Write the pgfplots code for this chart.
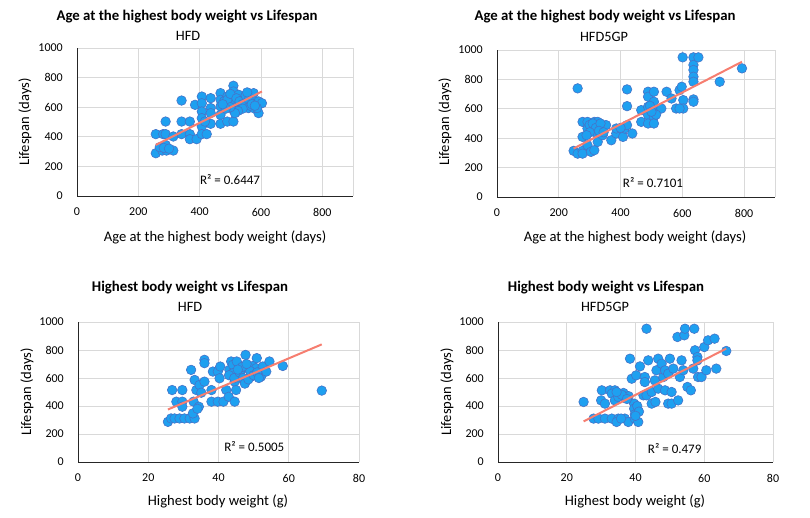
\documentclass[border=0pt]{standalone}
\usepackage{fontspec}
\setmainfont{Carlito}
\usepackage{pgfplots}
\pgfplotsset{compat=1.18}
\definecolor{ptfill}{RGB}{30,160,240}
\definecolor{ptedge}{RGB}{70,115,200}
\definecolor{trend}{RGB}{246,126,112}
\definecolor{gridc}{RGB}{217,217,217}
\pgfplotsset{
  myaxis/.style={
    scale only axis, anchor=south west, clip=false, clip marker paths=true,
    axis x line*=bottom, axis y line*=left,
    axis line style={black!85, line width=0.8pt},
    grid=major, major grid style={gridc, line width=0.8pt},
    major tick length=0pt,
    ymin=0, ymax=1000, ytick={0,200,...,1000},
    scaled ticks=false,
    /pgf/number format/1000 sep={},
    /pgf/number format/assume math mode=true,
    tick label style={font=\fontsize{12}{13}\selectfont, inner sep=0pt},
    yticklabel style={xshift=-14pt},
    xticklabel style={yshift=-12pt},
  },
  pts/.style={only marks, mark=*, mark size=4.8pt, mark options={fill=ptfill, draw=ptedge, line width=0.6pt}},
  tl/.style={trend, line width=2pt, no marks},
}
\tikzset{
  ttl/.style={font=\bfseries\fontsize{14.8}{16}\selectfont},
  sub/.style={font=\fontsize{14.3}{16}\selectfont},
  lab/.style={font=\fontsize{14.6}{16}\selectfont},
  rsq/.style={font=\fontsize{13}{14}\selectfont},
}
\begin{document}
\begin{tikzpicture}
\path[use as bounding box] (0,0) rectangle (810pt,517pt);
% Panel 1
\begin{axis}[myaxis, at={(77pt,321pt)}, width=276pt, height=148pt,
  xmin=0, xmax=900, xtick={0,200,...,800}, extra x ticks={900}, extra x tick labels={}, extra tick style={grid=major}]
\addplot[pts] table {
x y
257 418
257 289
281 418
289 503
289 418
289 345
278 307
292 307
314 307
314 402
270 330
283 325
300 320
341 645
341 503
341 418
368 503
368 418
368 384
390 384
385 616
407 672
407 627
407 571
407 526
407 469
407 418
423 418
436 661
436 594
436 560
436 488
417 503
468 695
468 650
468 605
468 548
468 488
490 672
490 627
490 503
505 605
510 745
510 706
510 650
510 582
510 503
527 684
532 605
548 650
559 672
576 695
576 639
559 594
592 560
592 639
603 627
576 594
587 594
480 640
490 650
500 690
520 660
530 640
540 620
550 680
560 650
565 610
540 590
525 575
515 560
500 600
485 590
475 620
555 700
570 620
580 610
};
\addplot[tl] coordinates {(257,345) (603,706)};
\node[rsq] at (axis cs:499,108) {R² = 0.6447};
\end{axis}
% Panel 2
\begin{axis}[myaxis, at={(497pt,320pt)}, width=278pt, height=147pt,
  xmin=0, xmax=900, xtick={0,200,...,800}, extra x ticks={900}, extra x tick labels={}, extra tick style={grid=major}]
\addplot[pts] table {
x y
261 739
248 314
261 295
277 314
277 409
277 511
293 511
293 466
293 352
277 295
304 307
315 511
315 443
315 318
326 511
326 477
326 375
342 466
342 420
353 489
370 386
386 432
386 466
408 409
413 466
421 489
421 618
421 732
438 432
467 591
467 511
489 716
489 682
489 614
489 557
489 500
508 716
508 648
508 591
508 545
508 500
532 602
549 716
565 670
580 602
591 727
598 750
603 659
603 602
601 950
591 602
636 950
636 898
636 864
636 818
636 784
636 664
636 648
652 950
721 784
793 875
300 490
310 500
320 470
335 500
330 450
345 440
300 440
290 420
495 620
515 560
500 580
400 470
};
\addplot[tl] coordinates {(248,330) (793,920)};
\node[rsq] at (axis cs:505,95) {R² = 0.7101};
\end{axis}
% Panel 3
\begin{axis}[myaxis, at={(78pt,55pt)}, width=281pt, height=140pt,
  xmin=0, xmax=80, xtick={0,20,...,80}]
\addplot[pts] table {
x y
25.6 287
26.5 311
27.5 311
28.9 311
30.3 311
31.8 311
33.2 311
26.8 514
29.7 514
28.0 431
29.7 431
29.7 395
32.2 658
32.9 431
32.7 347
33.2 586
33.7 514
34.6 550
35.1 495
34.4 395
36.0 730
36.0 706
36.0 574
38.4 646
38.0 514
38.0 431
39.8 431
41.4 431
39.8 646
40.5 682
40.3 598
42.2 514
42.9 466
43.1 658
43.6 718
44.1 694
44.1 634
44.6 431
44.6 574
45.0 514
45.2 718
45.9 622
46.5 658
47.1 586
47.7 765
47.7 574
48.3 670
49.3 610
49.8 686
50.7 670
50.9 742
52.1 610
52.6 682
53.6 646
54.5 718
58.3 686
69.4 510
43.0 620
44.5 600
46.0 640
47.0 600
47.5 560
48.5 590
49.0 650
50.0 620
51.0 640
51.5 600
46.8 680
45.5 660
48.0 700
34.0 380
};
\addplot[tl] coordinates {(25.6,375) (69.4,840)};
\node[rsq] at (axis cs:50.2,108) {R² = 0.5005};
\end{axis}
% Panel 4
\begin{axis}[myaxis, at={(498pt,55pt)}, width=275pt, height=140pt,
  xmin=0, xmax=80, xtick={0,20,...,80}]
\addplot[pts] table {
x y
24.9 429
27.8 310
29.2 310
31.1 310
33.1 310
35.0 310
36.9 310
30.2 512
30.0 440
31.1 417
32.6 512
34.0 512
33.1 488
34.0 440
35.0 464
36.5 493
34.5 286
37.9 286
35.8 310
38.4 738
38.9 595
39.6 417
39.6 381
39.8 340
39.8 310
40.8 286
40.2 619
41.3 683
43.2 952
42.7 607
42.7 571
42.3 476
43.2 476
43.7 726
44.7 500
44.7 417
45.8 429
45.6 583
46.1 655
46.6 738
46.6 524
47.6 702
48.1 607
48.6 655
48.6 512
49.5 631
50.0 738
49.5 417
50.5 500
50.5 417
51.0 667
52.2 893
52.4 440
52.9 607
53.4 726
53.9 655
54.2 905
54.4 952
55.1 536
56.1 512
56.8 667
57.1 952
57.3 798
58.0 750
58.0 726
58.2 607
59.2 607
60.0 821
60.6 655
61.1 869
63.0 881
63.5 667
66.4 793
38.0 470
36.0 480
34.5 500
37.5 450
40.5 400
41.0 360
40.0 330
};
\addplot[tl] coordinates {(24.9,290) (66.4,810)};
\node[rsq] at (axis cs:51.4,95) {R² = 0.479};
\end{axis}
% Titles
\node[ttl] at (187pt,500pt) {Age at the highest body weight vs Lifespan};
\node[sub] at (188pt,481pt) {HFD};
\node[ttl] at (605pt,500pt) {Age at the highest body weight vs Lifespan};
\node[sub] at (604pt,480pt) {HFD5GP};
\node[ttl] at (190pt,229pt) {Highest body weight vs Lifespan};
\node[sub] at (190pt,210pt) {HFD};
\node[ttl] at (606pt,229pt) {Highest body weight vs Lifespan};
\node[sub] at (605pt,210pt) {HFD5GP};
% Axis labels
\node[lab] at (215pt,280pt) {Age at the highest body weight (days)};
\node[lab] at (635pt,280pt) {Age at the highest body weight (days)};
\node[lab] at (218pt,16pt) {Highest body weight (g)};
\node[lab] at (635pt,16pt) {Highest body weight (g)};
\node[lab, rotate=90] at (25pt,395pt) {Lifespan (days)};
\node[lab, rotate=90] at (445pt,395pt) {Lifespan (days)};
\node[lab, rotate=90] at (27pt,125pt) {Lifespan (days)};
\node[lab, rotate=90] at (447pt,125pt) {Lifespan (days)};
\end{tikzpicture}
\end{document}
